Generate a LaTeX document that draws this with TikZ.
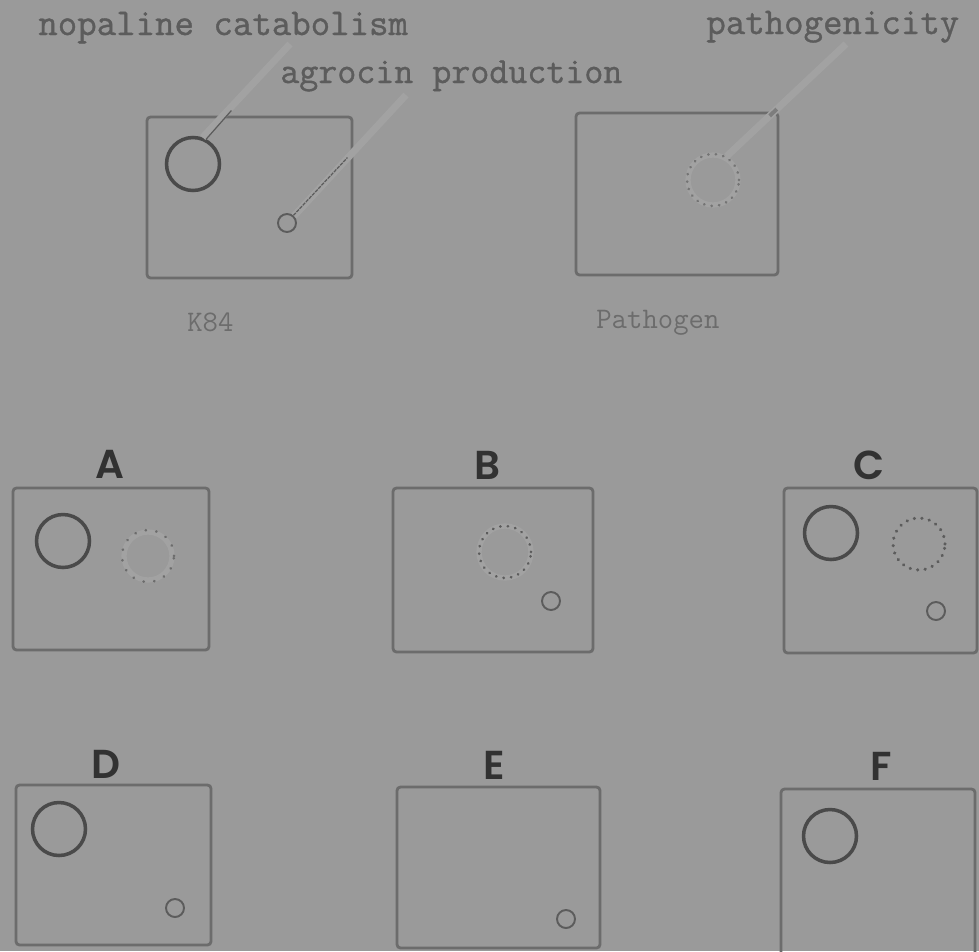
\documentclass[tikz,border=0pt]{standalone}
\usepackage{fontspec}
\usepackage{tikz}
\usetikzlibrary{positioning, calc}
\newfontfamily\panelfont{Poppins}[BoldFont={Poppins SemiBold}]
\newfontfamily\typefont{Latin Modern Mono}[FakeBold=1]
\definecolor{scanbg}{HTML}{9A9A9A}
\definecolor{ink}{HTML}{5C5C5C}
\definecolor{inkdark}{HTML}{323232}
\definecolor{haze}{HTML}{A2A2A2}

\begin{document}
\begin{tikzpicture}[x=0.02cm, y=-0.02cm,
        plate/.style={draw=ink!90, line width=1.6pt, rounded corners=2pt},
        bigcol/.style={circle, draw=ink!80!black, line width=2pt, minimum size=1.06cm, inner sep=0pt},
        smallcol/.style={circle, draw=ink, line width=1.1pt, minimum size=0.36cm, inner sep=0pt},
        dotcol/.style={circle, draw=ink, line width=1.6pt, dash pattern=on 0.1pt off 4.2pt, line cap=round, minimum size=1.04cm, inner sep=0pt},
        halo/.style={draw=haze, line width=4pt},
        label/.style={inner sep=0pt, text=ink, font=\typefont\fontsize{21.5pt}{21.5pt}\selectfont},
        strain/.style={inner sep=0pt, text=ink!90, font=\ttfamily\fontsize{17pt}{17pt}\selectfont},
        panel/.style={inner sep=0pt, text=inkdark, font=\panelfont\bfseries\fontsize{23pt}{23pt}\selectfont},
        leader/.style={draw=ink, line width=0.7pt}
    ]
    \useasboundingbox (0,0) rectangle (979,951);
    \fill[scanbg] (0,0) rectangle (979,951);

    % trait labels
    \node[label, anchor=base west] (nopt) at (38,35) {nopaline catabolism};
    \node[label, anchor=base west, font=\typefont\fontsize{21pt}{21pt}\selectfont] (agrt) at (280,83) {agrocin production};
    \node[label, anchor=base west] (patht) at (706,34) {pathogenicity};

    % K84 and pathogen plates
    \draw[plate] (147,117) rectangle (352,278);
    \node[bigcol] (knop) at (193,164) {};
    \node[smallcol] (kagr) at (287,223) {};
    \node[strain, anchor=base west] (k84) at (187,331) {K84};

    \draw[plate] (576,113) rectangle (778,275);
    \draw[halo, line width=3pt] (713,180) circle (25);
    \node[dotcol, draw=ink!85] (ppath) at (713,180) {};
    \node[strain, anchor=base west] (patho) at (596,328) {Pathogen};

    \coordinate (noptip) at (290,44);
    \coordinate (agrtip) at (406,95);
    \coordinate (pathtip) at (846,44);
    \draw[halo] (knop.70) -- (noptip);
    \draw[halo] (kagr.45) -- (agrtip);
    \draw[halo] (ppath.60) -- (pathtip);
    \draw[leader] (knop.62) -- ($(knop.62)!0.3!(noptip)$);
    \draw[leader, dash pattern=on 2pt off 0.6pt] (kagr.50) -- ($(kagr.50)!0.48!(agrtip)$);
    \draw[leader, line width=2.2pt, draw=ink!80] ($(ppath.60)!0.36!(pathtip)$) -- ($(ppath.60)!0.42!(pathtip)$);

    % first row of transconjugants
    \node[panel, anchor=base] (pa) at (110,478) {A};
    \draw[plate] (13,488) rectangle (209,650);
    \node[bigcol] (anop) at (63,541) {};
    \draw[halo, line width=3pt] (148,556) circle (24);
    \node[dotcol, dash pattern=on 0.1pt off 6pt, draw=ink!90] (apath) at (148,556) {};

    \node[panel, anchor=base] (pb) at (487,479) {B};
    \draw[plate] (393,488) rectangle (593,652);
    \draw[halo, line width=3pt] (505,552) circle (26);
    \node[dotcol] (bpath) at (505,552) {};
    \node[smallcol] (bagr) at (551,601) {};

    \node[panel, anchor=base] (pc) at (869,479) {C};
    \draw[plate] (784,488) rectangle (977,653);
    \node[bigcol] (cnop) at (831,533) {};
    \node[dotcol, line width=1.9pt] (cpath) at (919,544) {};
    \node[smallcol] (cagr) at (936,611) {};

    % second row of transconjugants
    \node[panel, anchor=base] (pd) at (106,778) {D};
    \draw[plate] (16,785) rectangle (211,945);
    \node[bigcol] (dnop) at (59,829) {};
    \node[smallcol] (dagr) at (175,908) {};

    \node[panel, anchor=base] (pe) at (494,779) {E};
    \draw[plate] (397,787) rectangle (600,948);
    \node[smallcol] (eagr) at (566,919) {};

    \node[panel, anchor=base] (pf) at (881,780) {F};
    \draw[plate] (781,789) rectangle (975,960);
    \node[bigcol] (fnop) at (830,836) {};
\end{tikzpicture}
\end{document}
